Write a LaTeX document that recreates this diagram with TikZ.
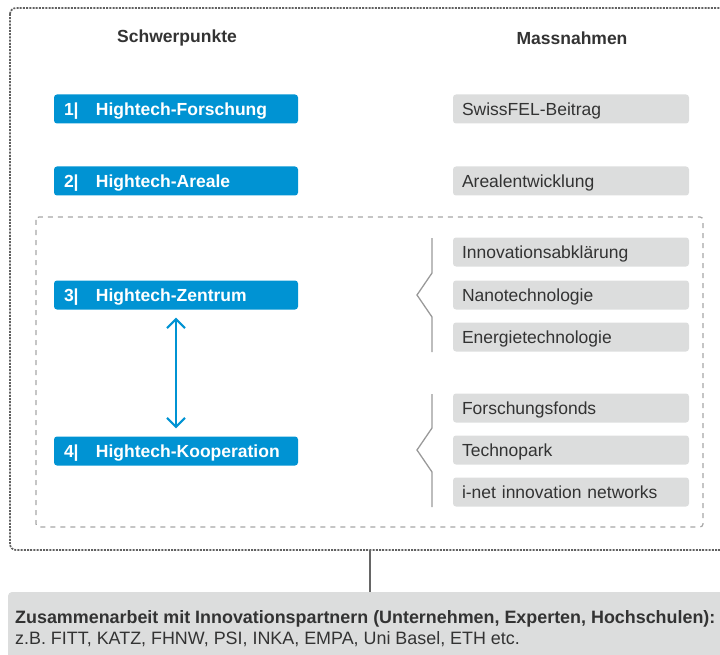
\documentclass[tikz,border=0pt]{standalone}
\usepackage{fontspec}
\setmainfont{Liberation Sans}
\usepackage{xcolor}
\usetikzlibrary{arrows.meta}
\definecolor{mnblue}{HTML}{0093D3}
\definecolor{mnbox}{HTML}{DCDDDD}
\definecolor{mntext}{HTML}{333333}
\tikzset{
  mnhead/.style={font=\fontsize{17.5}{20}\selectfont\bfseries, text=mntext},
  mnfocus/.style={fill=mnblue, rounded corners=3pt, minimum width=244pt, minimum height=29pt,
    text width=224pt, inner xsep=10pt, text height=12.6pt, text depth=0pt,
    align=left, text=white, font=\fontsize{17.5}{20}\selectfont\bfseries},
  mnmeasure/.style={fill=mnbox, rounded corners=3pt, minimum width=236pt, minimum height=29pt,
    text width=218pt, inner xsep=9pt, text height=12.6pt, text depth=0pt,
    align=left, text=mntext, font=\fontsize{17.5}{20}\selectfont},
  mnouter/.style={draw=black!62, line width=1.7pt, dash pattern=on 2pt off 1.2pt, rounded corners=6pt},
  mninner/.style={draw=black!35, line width=1.2pt, dash pattern=on 5pt off 5pt, rounded corners=3pt},
  mnbrace/.style={draw=black!40, line width=1.3pt, line join=miter},
  mnlink/.style={draw=black!60, line width=1.3pt},
  mnarrow/.style={draw=mnblue, line width=2pt,
    {Straight Barb[length=9pt,width=18pt]}-{Straight Barb[length=9pt,width=18pt]}},
  mnpartner/.style={align=left, inner sep=0pt, text=mntext, font=\fontsize{17.9}{20.5}\selectfont},
}
\newcommand{\mnnum}[1]{\makebox[32pt][l]{#1|}}

\begin{document}
\begin{tikzpicture}[x=1pt, y=-1pt]
\useasboundingbox (0,0) rectangle (720,655);
\clip (0,0) rectangle (720,655);
% frames
\draw[mnouter] (10,8) rectangle (740,550);
\draw[mninner] (36,217) rectangle (703,527);
% headings
\node[mnhead] (hsp) at (177,38) {Schwerpunkte};
\node[mnhead] (hmn) at (572,38) {Massnahmen};
% Schwerpunkte
\node[mnfocus] (f1) at (176,109) {\mnnum{1}Hightech-Forschung};
\node[mnfocus] (f2) at (176,181) {\mnnum{2}Hightech-Areale};
\node[mnfocus] (f3) at (176,295) {\mnnum{3}Hightech-Zentrum};
\node[mnfocus] (f4) at (176,451) {\mnnum{4}Hightech-Kooperation};
% Massnahmen
\node[mnmeasure] (m1) at (571,109) {SwissFEL-Beitrag};
\node[mnmeasure] (m2) at (571,181) {Arealentwicklung};
\node[mnmeasure] (m3) at (571,252) {Innovationsabklärung};
\node[mnmeasure] (m4) at (571,295) {Nanotechnologie};
\node[mnmeasure] (m5) at (571,337) {Energietechnologie};
\node[mnmeasure] (m6) at (571,408) {Forschungsfonds};
\node[mnmeasure] (m7) at (571,450) {Technopark};
\node[mnmeasure] (m8) at (571,492) {i-net innovation networks};
% brackets
\draw[mnbrace] (432,238) -- (432,273) -- (417,295) -- (432,317) -- (432,352);
\draw[mnbrace] (432,394) -- (432,428) -- (417,450) -- (432,472) -- (432,507);
% link 3 <-> 4
\draw[mnarrow, shorten <=8pt, shorten >=8pt] (f3.south) -- (f4.north);
% partner box
\fill[mnbox, rounded corners=4pt] (8,592) rectangle (740,690);
\coordinate (mnjoin) at (370,550);
\coordinate (mnbase) at (370,592);
\draw[mnlink] (mnjoin) -- (mnbase);
\node[mnpartner, anchor=base west] (partner) at (15,644) {\textbf{Zusammenarbeit mit Innovationspartnern (Unternehmen, Experten, Hochschulen):}\\
z.B. FITT, KATZ, FHNW, PSI, INKA, EMPA, Uni Basel, ETH etc.};
\end{tikzpicture}
\end{document}
